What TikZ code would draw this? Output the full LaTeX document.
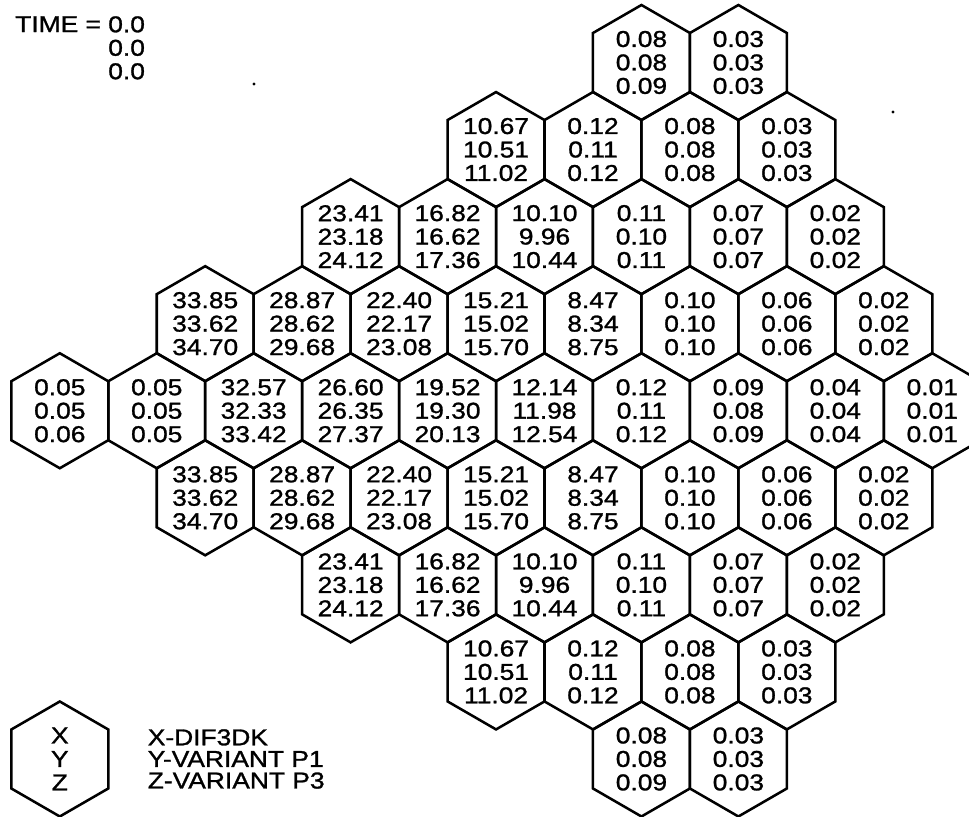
\documentclass[tikz,border=0pt]{standalone}
\usepackage{fontspec}
\setmainfont{Liberation Sans}[FakeStretch=1.15, FakeBold=1.2]
\usetikzlibrary{positioning}

\newcommand{\cellfont}{\fontsize{17.2pt}{17.6pt}\selectfont}
\newcommand{\keyfont}{\fontsize{17.2pt}{16.2pt}\selectfont}

% one hexagonal cell: name, half-column, row, values
\newcommand{\hexcell}[4]{%
  \node[cell] (#1) at ({59.8+48.47*#2},{62.5+87.06*#3}) {#4};
  \draw[hexline] (#1.center) +(0,-57.5) -- +(48.47,-29.5) -- +(48.47,29.5)
    -- +(0,57.5) -- +(-48.47,29.5) -- +(-48.47,-29.5) -- cycle;
}

\begin{document}
\begin{tikzpicture}[
  x=0.75pt, y=-0.75pt,
  cell/.style={inner sep=0pt, align=center, font=\cellfont},
  hexline/.style={line width=1.9pt, line join=miter},
  tag/.style={inner sep=0pt, font=\cellfont}
]
  \useasboundingbox (0,0) rectangle (969,816);

  \node[tag, anchor=north west] (time) at (15,16) {TIME =};
  \node[tag, anchor=north west, align=left] (tval) at (108,16) {0.0\\0.0\\0.0};

  % row 0
  \hexcell{r0k12}{12}{0}{0.08\\0.08\\0.09}
  \hexcell{r0k14}{14}{0}{0.03\\0.03\\0.03}
  % row 1
  \hexcell{r1k9}{9}{1}{10.67\\10.51\\11.02}
  \hexcell{r1k11}{11}{1}{0.12\\0.11\\0.12}
  \hexcell{r1k13}{13}{1}{0.08\\0.08\\0.08}
  \hexcell{r1k15}{15}{1}{0.03\\0.03\\0.03}
  % row 2
  \hexcell{r2k6}{6}{2}{23.41\\23.18\\24.12}
  \hexcell{r2k8}{8}{2}{16.82\\16.62\\17.36}
  \hexcell{r2k10}{10}{2}{10.10\\9.96\\10.44}
  \hexcell{r2k12}{12}{2}{0.11\\0.10\\0.11}
  \hexcell{r2k14}{14}{2}{0.07\\0.07\\0.07}
  \hexcell{r2k16}{16}{2}{0.02\\0.02\\0.02}
  % row 3
  \hexcell{r3k3}{3}{3}{33.85\\33.62\\34.70}
  \hexcell{r3k5}{5}{3}{28.87\\28.62\\29.68}
  \hexcell{r3k7}{7}{3}{22.40\\22.17\\23.08}
  \hexcell{r3k9}{9}{3}{15.21\\15.02\\15.70}
  \hexcell{r3k11}{11}{3}{8.47\\8.34\\8.75}
  \hexcell{r3k13}{13}{3}{0.10\\0.10\\0.10}
  \hexcell{r3k15}{15}{3}{0.06\\0.06\\0.06}
  \hexcell{r3k17}{17}{3}{0.02\\0.02\\0.02}
  % row 4 (middle)
  \hexcell{r4k0}{0}{4}{0.05\\0.05\\0.06}
  \hexcell{r4k2}{2}{4}{0.05\\0.05\\0.05}
  \hexcell{r4k4}{4}{4}{32.57\\32.33\\33.42}
  \hexcell{r4k6}{6}{4}{26.60\\26.35\\27.37}
  \hexcell{r4k8}{8}{4}{19.52\\19.30\\20.13}
  \hexcell{r4k10}{10}{4}{12.14\\11.98\\12.54}
  \hexcell{r4k12}{12}{4}{0.12\\0.11\\0.12}
  \hexcell{r4k14}{14}{4}{0.09\\0.08\\0.09}
  \hexcell{r4k16}{16}{4}{0.04\\0.04\\0.04}
  \hexcell{r4k18}{18}{4}{0.01\\0.01\\0.01}
  % row 5
  \hexcell{r5k3}{3}{5}{33.85\\33.62\\34.70}
  \hexcell{r5k5}{5}{5}{28.87\\28.62\\29.68}
  \hexcell{r5k7}{7}{5}{22.40\\22.17\\23.08}
  \hexcell{r5k9}{9}{5}{15.21\\15.02\\15.70}
  \hexcell{r5k11}{11}{5}{8.47\\8.34\\8.75}
  \hexcell{r5k13}{13}{5}{0.10\\0.10\\0.10}
  \hexcell{r5k15}{15}{5}{0.06\\0.06\\0.06}
  \hexcell{r5k17}{17}{5}{0.02\\0.02\\0.02}
  % row 6
  \hexcell{r6k6}{6}{6}{23.41\\23.18\\24.12}
  \hexcell{r6k8}{8}{6}{16.82\\16.62\\17.36}
  \hexcell{r6k10}{10}{6}{10.10\\9.96\\10.44}
  \hexcell{r6k12}{12}{6}{0.11\\0.10\\0.11}
  \hexcell{r6k14}{14}{6}{0.07\\0.07\\0.07}
  \hexcell{r6k16}{16}{6}{0.02\\0.02\\0.02}
  % row 7
  \hexcell{r7k9}{9}{7}{10.67\\10.51\\11.02}
  \hexcell{r7k11}{11}{7}{0.12\\0.11\\0.12}
  \hexcell{r7k13}{13}{7}{0.08\\0.08\\0.08}
  \hexcell{r7k15}{15}{7}{0.03\\0.03\\0.03}
  % row 8
  \hexcell{r8k12}{12}{8}{0.08\\0.08\\0.09}
  \hexcell{r8k14}{14}{8}{0.03\\0.03\\0.03}

  % legend
  \hexcell{key}{0}{8}{X\\Y\\Z}
  \node[tag, align=left, font=\keyfont, right=59pt of key] (keytext)
    {X-DIF3DK\\Y-VARIANT P1\\Z-VARIANT P3};

  \fill (254,84) circle (1.6);
  \fill (893,112) circle (1.6);
\end{tikzpicture}
\end{document}
